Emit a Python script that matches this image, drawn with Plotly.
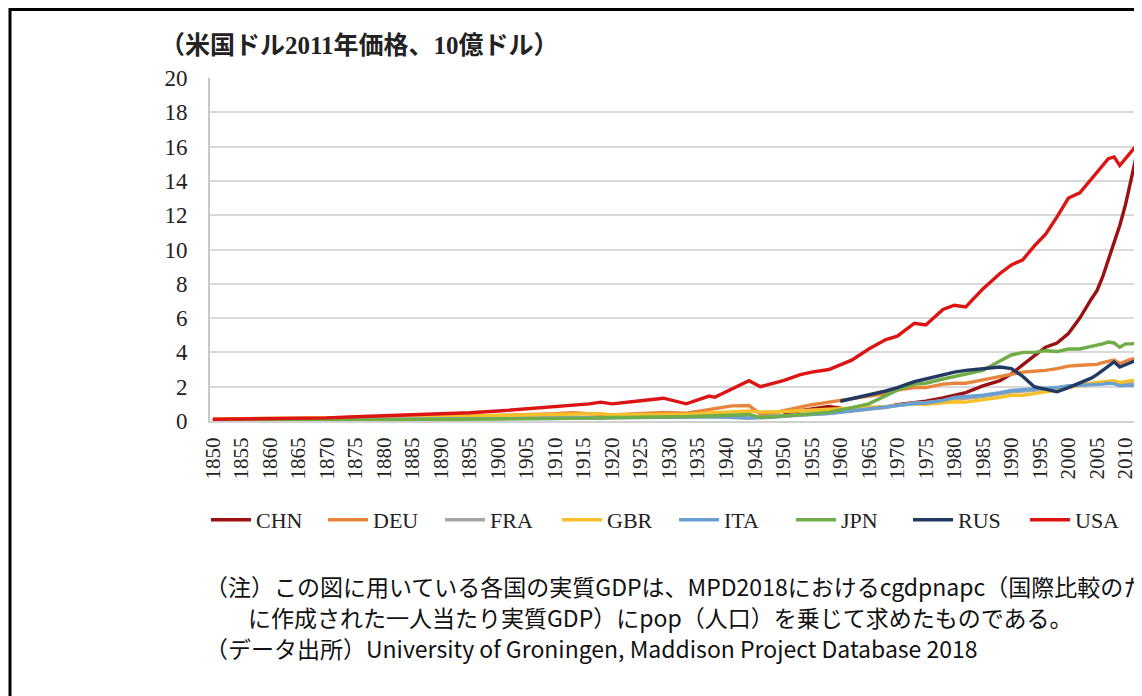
import plotly.graph_objects as go

# ---------------- data ----------------
years = [1850, 1855, 1860, 1865, 1870, 1875, 1880, 1885, 1890, 1895, 1900, 1905, 1910,
         1913, 1916, 1918, 1920, 1925, 1929, 1933, 1937, 1938, 1941, 1944, 1946, 1948,
         1950, 1953, 1955, 1958, 1960, 1962, 1965, 1968, 1970, 1973, 1975, 1978, 1980,
         1982, 1985, 1988, 1990, 1992, 1994, 1996, 1998, 2000, 2002, 2004,
         2005, 2006, 2007, 2008, 2009, 2010, 2011, 2012, 2013, 2014, 2015, 2016]

chn = [None] * 26 + [0.45, 0.6, 0.68, 0.85, 0.75, 0.6, 0.75, 0.8, 0.95, 1.1, 1.15, 1.35, 1.5,
                     1.65, 2.05, 2.35, 2.75, 3.3, 3.8, 4.3, 4.55, 5.1, 6.0, 7.1,
                     7.6, 8.4, 9.4, 10.4, 11.4, 12.6, 14.1, 15.6, 16.6, 17.3, 17.9, 18.5]
deu = [0.07, 0.08, 0.1, 0.12, 0.13, 0.16, 0.18, 0.2, 0.24, 0.28, 0.32, 0.36, 0.42,
       0.48, 0.4, 0.38, 0.35, 0.45, 0.5, 0.45, 0.65, 0.72, 0.88, 0.9, 0.4, 0.45,
       0.6, 0.82, 0.95, 1.1, 1.2, 1.3, 1.45, 1.6, 1.8, 1.95, 1.95, 2.15, 2.2,
       2.2, 2.4, 2.6, 2.75, 2.85, 2.9, 2.95, 3.05, 3.2, 3.25, 3.25,
       3.3, 3.4, 3.5, 3.55, 3.35, 3.5, 3.6, 3.65, 3.65, 3.7, 3.75, 3.8]
fra = [0.08, 0.09, 0.1, 0.11, 0.11, 0.12, 0.13, 0.14, 0.15, 0.17, 0.19, 0.2, 0.21,
       0.23, 0.18, 0.15, 0.2, 0.26, 0.3, 0.26, 0.28, 0.28, 0.2, 0.16, 0.24, 0.27,
       0.3, 0.34, 0.38, 0.44, 0.5, 0.56, 0.68, 0.8, 0.9, 1.05, 1.08, 1.2, 1.28,
       1.32, 1.42, 1.58, 1.7, 1.75, 1.78, 1.85, 1.95, 2.05, 2.1, 2.15,
       2.18, 2.22, 2.26, 2.26, 2.2, 2.24, 2.28, 2.3, 2.32, 2.34, 2.36, 2.4]
gbr = [0.12, 0.13, 0.15, 0.17, 0.19, 0.21, 0.22, 0.24, 0.27, 0.29, 0.32, 0.34, 0.36,
       0.38, 0.42, 0.43, 0.36, 0.38, 0.42, 0.4, 0.47, 0.48, 0.55, 0.58, 0.52, 0.52,
       0.55, 0.6, 0.63, 0.65, 0.7, 0.72, 0.8, 0.85, 0.9, 1.0, 0.98, 1.08, 1.12,
       1.1, 1.22, 1.38, 1.5, 1.5, 1.6, 1.7, 1.8, 1.95, 2.1, 2.2,
       2.25, 2.3, 2.35, 2.35, 2.25, 2.3, 2.35, 2.4, 2.45, 2.5, 2.55, 2.6]
ita = [0.06, 0.065, 0.07, 0.075, 0.08, 0.085, 0.09, 0.095, 0.1, 0.1, 0.11, 0.13, 0.15,
       0.17, 0.18, 0.17, 0.16, 0.19, 0.21, 0.2, 0.24, 0.25, 0.24, 0.17, 0.18, 0.22,
       0.27, 0.33, 0.37, 0.45, 0.52, 0.6, 0.68, 0.8, 0.9, 1.02, 1.05, 1.2, 1.38,
       1.42, 1.5, 1.65, 1.78, 1.82, 1.85, 1.88, 1.95, 2.05, 2.08, 2.1,
       2.12, 2.15, 2.2, 2.18, 2.05, 2.08, 2.1, 2.05, 2.02, 2.02, 2.05, 2.08]
jpn = [0.04, 0.04, 0.05, 0.05, 0.05, 0.06, 0.07, 0.07, 0.09, 0.1, 0.11, 0.11, 0.13,
       0.14, 0.17, 0.19, 0.19, 0.21, 0.23, 0.25, 0.31, 0.33, 0.37, 0.38, 0.2, 0.24,
       0.28, 0.36, 0.42, 0.52, 0.64, 0.78, 1.0, 1.45, 1.8, 2.15, 2.2, 2.45, 2.6,
       2.75, 2.95, 3.5, 3.85, 4.0, 4.0, 4.1, 4.05, 4.2, 4.2, 4.35,
       4.4, 4.5, 4.6, 4.55, 4.3, 4.5, 4.5, 4.55, 4.6, 4.6, 4.65, 4.7]
rus = [None] * 30 + [1.15, 1.3, 1.5, 1.75, 1.95, 2.3, 2.45, 2.7, 2.85, 2.95, 3.05, 3.15,
                     3.05, 2.6, 2.0, 1.85, 1.7, 1.95, 2.2, 2.5,
                     2.7, 2.95, 3.2, 3.45, 3.15, 3.3, 3.45, 3.55, 3.6, 3.6, 3.5, 3.5]
usa = [0.1, 0.12, 0.15, 0.15, 0.18, 0.25, 0.3, 0.38, 0.42, 0.48, 0.58, 0.7, 0.82,
       0.9, 1.0, 1.1, 1.0, 1.18, 1.33, 1.0, 1.45, 1.38, 1.85, 2.35, 2.0, 2.15,
       2.35, 2.7, 2.85, 3.0, 3.3, 3.55, 4.2, 4.75, 4.95, 5.7, 5.6, 6.5, 6.75,
       6.65, 7.7, 8.6, 9.1, 9.4, 10.2, 10.9, 11.9, 13.0, 13.3, 14.1,
       14.5, 14.9, 15.3, 15.4, 14.9, 15.3, 15.7, 16.1, 16.4, 16.8, 17.2, 17.5]

series_names = ["CHN", "DEU", "FRA", "GBR", "ITA", "JPN", "RUS", "USA"]
series_values = [chn, deu, fra, gbr, ita, jpn, rus, usa]
series_colors = ["#9B1111", "#E8853D", "#A5A5A5", "#F5C02A", "#6A9FD3", "#70AD47", "#223A63", "#DC1414"]

x_ticks = list(range(1850, 2011, 5))
y_ticks = list(range(0, 21, 2))

title_text = "（米国ドル2011年価格、10億ドル）"
note_lines = [
    "（注）この図に用いている各国の実質GDPは、MPD2018におけるcgdpnapc（国際比較のため",
    "に作成された一人当たり実質GDP）にpop（人口）を乗じて求めたものである。",
    "（データ出所）University of Groningen, Maddison Project Database 2018",
]

# ---------------- layout geometry ----------------
# the page body has an 8px margin, so the figure is drawn 8px in from the window corner
OFF = 8
W, H = 1142 - OFF, 696 - OFF
L, R, T, B = 210 - OFF, 0, 78 - OFF, H - (421 - OFF)
PW, PH = W - L - R, H - T - B


def px_x(p):  # window pixel -> paper x
    return (p - OFF - L) / PW


def px_y(p):  # window pixel -> paper y
    return (H - B - (p - OFF)) / PH


SERIF = "Liberation Serif"
SANS_JP = "Noto Sans CJK JP"

fig = go.Figure()
for name, vals, col in zip(series_names, series_values, series_colors):
    fig.add_trace(go.Scatter(x=years, y=vals, name=name, mode="lines",
                             line=dict(color=col, width=3.4)))

fig.update_layout(
    width=W, height=H,
    margin=dict(l=L, r=R, t=T, b=B, pad=0),
    paper_bgcolor="white", plot_bgcolor="white",
    showlegend=True,
    legend=dict(orientation="h", x=px_x(206), xanchor="left", y=px_y(520), yanchor="middle",
                font=dict(family=SERIF, size=22, color="#222"),
                entrywidth=62, entrywidthmode="pixels", itemwidth=40,
                bgcolor="rgba(0,0,0,0)", tracegroupgap=0),
    xaxis=dict(range=[1849.5, 2012.9], tickmode="array", tickvals=x_ticks,
               ticktext=[str(v) for v in x_ticks], tickangle=-90,
               tickfont=dict(family=SERIF, size=21, color="#222"),
               showgrid=False, zeroline=False, showline=True, linecolor="#D0D0D0", linewidth=2,
               ticks="", ticklabelstandoff=6),
    yaxis=dict(range=[0, 20], tickmode="array", tickvals=y_ticks,
               tickfont=dict(family=SERIF, size=23, color="#222"),
               showgrid=True, gridcolor="#D9D9D9", gridwidth=2,
               zeroline=False, showline=True, linecolor="#C8C8C8", linewidth=2,
               ticks="", ticklabelstandoff=16),
)

annotations = [
    dict(text="<b>" + title_text + "</b>", x=px_x(158), y=px_y(45), xref="paper", yref="paper",
         xanchor="left", yanchor="middle", showarrow=False,
         font=dict(family=SERIF + ", " + SANS_JP, size=25, color="#222")),
    dict(text=note_lines[0], x=px_x(203), y=px_y(586), xref="paper", yref="paper",
         xanchor="left", yanchor="middle", showarrow=False,
         font=dict(family=SANS_JP, size=23, color="#111")),
    dict(text=note_lines[1], x=px_x(246), y=px_y(617), xref="paper", yref="paper",
         xanchor="left", yanchor="middle", showarrow=False,
         font=dict(family=SANS_JP, size=23, color="#111")),
    dict(text=note_lines[2], x=px_x(203), y=px_y(648), xref="paper", yref="paper",
         xanchor="left", yanchor="middle", showarrow=False,
         font=dict(family=SANS_JP, size=23, color="#111")),
]
fig.update_layout(annotations=annotations)

# outer black frame (cropped on the right and bottom as in the reference)
fig.add_shape(type="rect", xref="paper", yref="paper",
              x0=px_x(10), x1=px_x(1142 + 20), y0=px_y(696 + 20), y1=px_y(9.5),
              line=dict(color="black", width=3), fillcolor="rgba(0,0,0,0)", layer="above")

fig.write_html("out.html")
